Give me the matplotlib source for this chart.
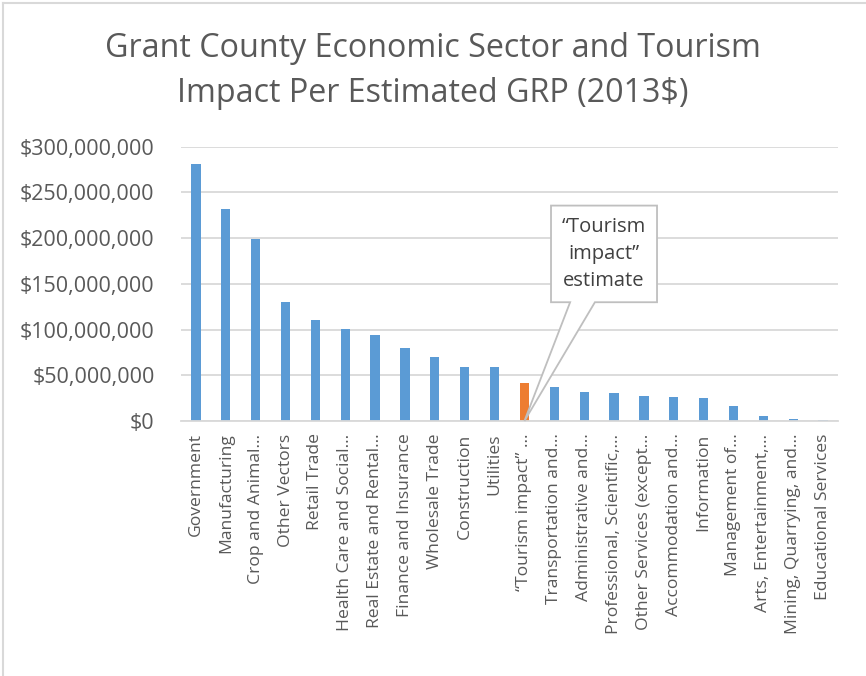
import matplotlib
matplotlib.use('Agg')
import matplotlib.pyplot as plt
from matplotlib.patches import Polygon
from matplotlib.lines import Line2D
from matplotlib.ticker import FuncFormatter
import numpy as np

plt.rcParams['font.family'] = ['Open Sans', 'DejaVu Sans']

# sector labels as they show on the axis (long names are cut off)
sectors = [
    'Government', 'Manufacturing', 'Crop and Animal\u2026', 'Other Vectors',
    'Retail Trade', 'Health Care and Social\u2026', 'Real Estate and Rental\u2026',
    'Finance and Insurance', 'Wholesale Trade', 'Construction', 'Utilities',
    '\u201cTourism impact\u201d \u2026', 'Transportation and\u2026',
    'Administrative and\u2026', 'Professional, Scientific,\u2026',
    'Other Services (except\u2026', 'Accommodation and\u2026', 'Information',
    'Management of\u2026', 'Arts, Entertainment,\u2026', 'Mining, Quarrying, and\u2026',
    'Educational Services',
]

# estimated GRP per sector, 2013 dollars
grp = [
    281e6, 231.6e6, 198.8e6, 129.9e6, 110.5e6, 101e6, 94.1e6, 79.5e6,
    70.4e6, 58.7e6, 58.7e6, 41.2e6, 36.9e6, 32.1e6, 30.3e6, 27e6,
    25.9e6, 24.8e6, 16.1e6, 5.1e6, 2.6e6, 1.4e6,
]

highlight = 11   # the tourism estimate
blue = '#5B9BD5'
orange = '#ED7D31'
text_grey = '#595959'

fig = plt.figure(figsize=(8.66, 6.76), dpi=100)
ax = fig.add_axes([181 / 866, 1 - 421 / 676, 657 / 866, 274.3 / 676])

x = np.arange(len(sectors))
colors = [orange if i == highlight else blue for i in x]
ax.bar(x, grp, width=0.31, color=colors, zorder=2)

ax.set_xlim(-0.5, len(sectors) - 0.5)
ax.set_ylim(0, 300e6)
ax.set_yticks(np.arange(0, 300e6 + 1, 50e6))
ax.yaxis.set_major_formatter(FuncFormatter(lambda v, p: '${:,.0f}'.format(v)))
ax.grid(axis='y', color='#D9D9D9', lw=1.3, zorder=0)
ax.set_axisbelow(True)
for s in ['top', 'right', 'left']:
    ax.spines[s].set_visible(False)
ax.spines['bottom'].set_color('#D9D9D9')
ax.spines['bottom'].set_linewidth(1.3)

ax.set_xticks(x)
ax.set_xticklabels(sectors, rotation=90, fontsize=12.6, color=text_grey)
ax.tick_params(axis='x', length=0, pad=9)
ax.tick_params(axis='y', length=0, pad=19, labelsize=15.5, labelcolor=text_grey)

fig.text(0.5, 1 - 71 / 676, 'Grant County Economic Sector and Tourism\nImpact Per Estimated GRP (2013$)',
         ha='center', va='center', fontsize=23.2, color=text_grey, linespacing=1.45)

# callout box with a tail down to the tourism bar
tip = (highlight, 0)
bx0, bx1, by0, by1 = 11.89, 15.44, 129.9e6, 235.6e6
callout = Polygon([(bx0, by1), (bx1, by1), (bx1, by0), (13.36, by0), tip,
                   (12.53, by0), (bx0, by0)], closed=True,
                  facecolor='white', edgecolor='#BFBFBF', lw=1.3,
                  zorder=5, clip_on=False)
ax.add_patch(callout)
ax.text((bx0 + bx1) / 2, (by0 + by1) / 2, '\u201cTourism\nimpact\u201d\nestimate',
        ha='center', va='center', fontsize=14.5, color='#404040',
        linespacing=1.45, zorder=6)

# chart area border (left and top edges)
fig.add_artist(Line2D([3 / 866, 3 / 866], [0, 1 - 3 / 676], transform=fig.transFigure,
                      color='#D9D9D9', lw=1.5))
fig.add_artist(Line2D([3 / 866, 1], [1 - 3 / 676, 1 - 3 / 676], transform=fig.transFigure,
                      color='#D9D9D9', lw=1.5))

fig.savefig('out.png', dpi=100, facecolor='white')
